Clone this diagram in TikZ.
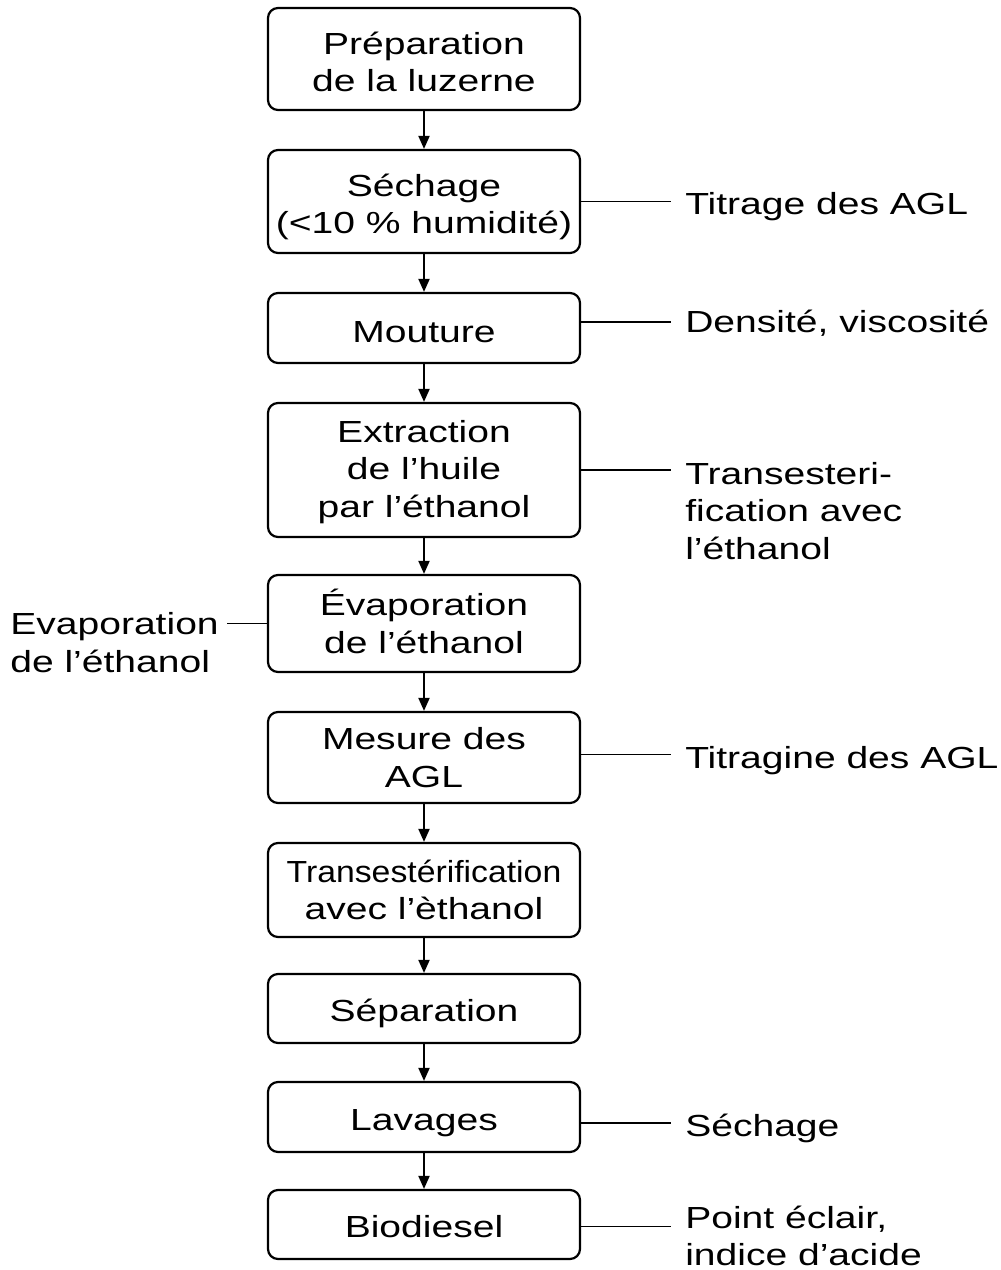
\documentclass[tikz,border=0pt]{standalone}
\usepackage{fontspec}
\setmainfont{Liberation Sans}[FakeStretch=1.28]
\usetikzlibrary{arrows.meta}
\newcommand\lblfont{\fontsize{30.5}{37.5}\selectfont}
\tikzset{
  box/.style={draw, line width=2.2pt, rounded corners=10pt, minimum width=312pt,
              inner sep=0pt},
  txt/.style={align=center, inner sep=0pt, font=\lblfont},
  arr/.style={line width=1.9pt, -{Triangle[length=13pt,width=11pt]}},
  tick/.style={line width=1.9pt},
  lab/.style={align=left, inner sep=0pt, font=\lblfont}
}
\begin{document}
\begin{tikzpicture}[x=1pt,y=-1pt]
\useasboundingbox[fill=white] (0,0) rectangle (1001,1270);
\node[box, minimum height=102pt] (b1) at (424,59) {};
\node[box, minimum height=103pt] (b2) at (424,201.5) {};
\node[box, minimum height=70pt] (b3) at (424,328) {};
\node[box, minimum height=134pt] (b4) at (424,470) {};
\node[box, minimum height=97pt] (b5) at (424,623.5) {};
\node[box, minimum height=91pt] (b6) at (424,757.5) {};
\node[box, minimum height=94pt] (b7) at (424,890) {};
\node[box, minimum height=69pt] (b8) at (424,1008.5) {};
\node[box, minimum height=70pt] (b9) at (424,1117) {};
\node[box, minimum height=69pt] (b10) at (424,1224.5) {};

\node[txt, yshift=-3pt] (b1t) at (b1) {Préparation\\de la luzerne};
\node[txt, yshift=-5.5pt] (b2t) at (b2) {Séchage\\(<10 \% humidité)};
\node[txt, yshift=-4pt] (b3t) at (b3) {Mouture};
\node[txt, yshift=-2pt] (b4t) at (b4) {Extraction\\de l’huile\\par l’éthanol};
\node[txt, yshift=2pt] (b5t) at (b5) {Évaporation\\de l’éthanol};
\node[txt] (b6t) at (b6) {Mesure des\\AGL};
\node[txt] (b7t) at (b7) {\scalebox{0.865}[1]{Transestérification}\\avec l’èthanol};
\node[txt, yshift=-5pt] (b8t) at (b8) {Séparation};
\node[txt, yshift=-6pt] (b9t) at (b9) {Lavages};
\node[txt, yshift=-2pt] (b10t) at (b10) {Biodiesel};

\foreach \a/\b in {b1/b2,b2/b3,b3/b4,b4/b5,b5/b6,b6/b7,b7/b8,b8/b9,b9/b10}
  \draw[arr] (\a) -- (\b);

% right side labels
\coordinate (r2) at ([xshift=90pt]b2.east);
\draw[tick] (b2.east) -- (r2);
\node[lab, anchor=base west, yshift=-13pt] (t2) at ([xshift=14pt]r2) {Titrage des AGL};

\coordinate (r3) at ([xshift=90pt,yshift=6pt]b3.east);
\draw[tick] ([yshift=6pt]b3.east) -- (r3);
\node[lab, anchor=base west, yshift=-10pt] (t3) at ([xshift=14pt]r3) {Densité, viscosité};

\coordinate (r4) at ([xshift=90pt]b4.east);
\draw[tick] (b4.east) -- (r4);
\node[lab, anchor=north west, yshift=8pt] (t4) at ([xshift=14pt]r4) {Transesteri-\\fication avec\\l’éthanol};

\coordinate (r6) at ([xshift=90pt,yshift=3pt]b6.east);
\draw[tick] ([yshift=3pt]b6.east) -- (r6);
\node[lab, anchor=base west, yshift=-14pt] (t6) at ([xshift=14pt]r6) {Titragine des AGL};

\coordinate (r9) at ([xshift=90pt,yshift=-6pt]b9.east);
\draw[tick] ([yshift=-6pt]b9.east) -- (r9);
\node[lab, anchor=base west, yshift=-13pt] (t9) at ([xshift=14pt]r9) {Séchage};

\coordinate (r10) at ([xshift=90pt,yshift=-2pt]b10.east);
\draw[tick] ([yshift=-2pt]b10.east) -- (r10);
\node[lab, anchor=north west, yshift=21pt] (t10) at ([xshift=14pt]r10) {Point éclair,\\indice d’acide};

% left label
\coordinate (l5) at ([xshift=-40pt]b5.west);
\draw[tick] (b5.west) -- (l5);
\node[lab, anchor=north east, yshift=11pt] (t5) at ([xshift=-8pt]l5) {Evaporation\\de l’éthanol};
\end{tikzpicture}
\end{document}
